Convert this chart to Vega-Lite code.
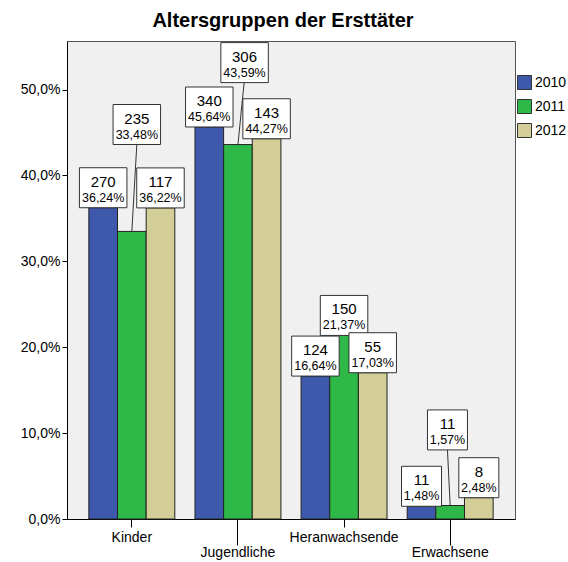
{
  "$schema": "https://vega.github.io/schema/vega-lite/v6.json",
  "autosize": {"type": "none"},
  "width": 448,
  "height": 478,
  "padding": {"left": 67, "top": 41, "right": 53, "bottom": 43},
  "background": "white",
  "title": {"text": "Altersgruppen der Ersttäter", "font": "Liberation Sans", "fontSize": 20, "fontWeight": "bold", "color": "black", "anchor": "middle", "frame": "group", "offset": 14, "baseline": "alphabetic", "dx": -8, "dy": 20},
  "config": {
    "locale": {"number": {"decimal": ",", "thousands": ".", "grouping": [3], "currency": ["", " €"]}},
    "view": {"fill": "#f0f0f0", "stroke": "#555555", "strokeWidth": 1},
    "font": "Liberation Sans"
  },
  "data": {"values": [
    {"group": "Kinder", "year": "2010", "pct": 0.3624, "n": 270},
    {"group": "Kinder", "year": "2011", "pct": 0.3348, "n": 235},
    {"group": "Kinder", "year": "2012", "pct": 0.3622, "n": 117},
    {"group": "Jugendliche", "year": "2010", "pct": 0.4564, "n": 340},
    {"group": "Jugendliche", "year": "2011", "pct": 0.4359, "n": 306},
    {"group": "Jugendliche", "year": "2012", "pct": 0.4427, "n": 143},
    {"group": "Heranwachsende", "year": "2010", "pct": 0.1664, "n": 124},
    {"group": "Heranwachsende", "year": "2011", "pct": 0.2137, "n": 150},
    {"group": "Heranwachsende", "year": "2012", "pct": 0.1703, "n": 55},
    {"group": "Erwachsene", "year": "2010", "pct": 0.0148, "n": 11},
    {"group": "Erwachsene", "year": "2011", "pct": 0.0157, "n": 11},
    {"group": "Erwachsene", "year": "2012", "pct": 0.0248, "n": 8}
  ]},
  "encoding": {
    "x": {
      "field": "group", "type": "nominal",
      "sort": ["Kinder", "Jugendliche", "Heranwachsende", "Erwachsene"],
      "scale": {"paddingInner": 0.19, "paddingOuter": 0.206},
      "axis": {
        "title": null, "labelAngle": 0, "labelFont": "Liberation Sans", "labelFontSize": 14, "labelColor": "black",
        "domainColor": "black", "tickColor": "black",
        "tickSize": {"condition": {"test": "datum.value == 'Jugendliche' || datum.value == 'Erwachsene'", "value": 26}, "value": 8},
        "labelPadding": {"condition": {"test": "datum.value == 'Jugendliche' || datum.value == 'Erwachsene'", "value": 0}, "value": 3}
      }
    },
    "xOffset": {"field": "year", "type": "nominal", "scale": {"paddingInner": 0, "paddingOuter": 0}},
    "y": {
      "field": "pct", "type": "quantitative",
      "scale": {"domain": [0, 0.5565], "nice": false},
      "axis": {"title": null, "grid": false, "format": ".1%", "values": [0, 0.1, 0.2, 0.3, 0.4, 0.5], "labelFont": "Liberation Sans", "labelFontSize": 14, "labelColor": "black", "domainColor": "black", "tickColor": "black", "tickSize": 5, "labelPadding": 2}
    }
  },
  "layer": [
    {
      "mark": {"type": "bar", "stroke": "#222222", "strokeWidth": 1},
      "encoding": {
        "color": {
          "field": "year", "type": "nominal",
          "scale": {"domain": ["2010", "2011", "2012"], "range": ["#3e58ac", "#2eb848", "#d3ce97"]},
          "legend": {"title": null, "orient": "none", "legendX": 450, "legendY": 34, "symbolType": "square", "symbolSize": 196, "symbolStrokeColor": "#333333", "symbolStrokeWidth": 1, "symbolOpacity": 1, "labelFont": "Liberation Sans", "labelFontSize": 14, "labelColor": "black", "labelOffset": 3, "rowPadding": 5}
        }
      }
    },
    {
      "transform": [{"filter": "!(datum.year == '2011' && datum.group != 'Heranwachsende') && datum.group != 'Erwachsene'"}],
      "mark": {"type": "point", "shape": "M-1,0L1,0L1,-1.684L-1,-1.684Z", "size": 2256, "filled": true, "fill": "white", "stroke": "#333333", "strokeWidth": 1, "opacity": 1}
    },
    {
      "transform": [{"filter": "datum.year != '2011' && datum.group == 'Erwachsene'"}],
      "mark": {"type": "point", "shape": "M-1,0L1,0L1,-2L-1,-2Z", "size": 1600, "filled": true, "fill": "white", "stroke": "#333333", "strokeWidth": 1, "opacity": 1}
    },
    {
      "transform": [{"filter": "datum.year == '2011' && datum.group == 'Kinder'"}],
      "mark": {"type": "point", "shape": "M0,0L0.21,-3.66M-0.79,-3.66L1.21,-3.66L1.21,-5.344L-0.79,-5.344Z", "size": 2256, "filled": true, "fill": "white", "stroke": "#333333", "strokeWidth": 1, "opacity": 1}
    },
    {
      "transform": [{"filter": "datum.year == '2011' && datum.group == 'Jugendliche'"}],
      "mark": {"type": "point", "shape": "M0,0L0.26,-2.61M-0.72,-2.61L1.28,-2.61L1.28,-4.294L-0.72,-4.294Z", "size": 2256, "filled": true, "fill": "white", "stroke": "#333333", "strokeWidth": 1, "opacity": 1}
    },
    {
      "transform": [{"filter": "datum.year == '2011' && datum.group == 'Erwachsene'"}],
      "mark": {"type": "point", "shape": "M0,0L-0.135,-2.78M-1.135,-2.78L0.865,-2.78L0.865,-4.78L-1.135,-4.78Z", "size": 1600, "filled": true, "fill": "white", "stroke": "#333333", "strokeWidth": 1, "opacity": 1}
    },
    {
      "transform": [{"filter": "!(datum.year == '2011' && datum.group != 'Heranwachsende')"}],
      "mark": {"type": "text", "font": "Liberation Sans", "fontSize": 15, "baseline": "alphabetic", "dy": -21, "color": "black"},
      "encoding": {"text": {"field": "n", "type": "quantitative"}}
    },
    {
      "transform": [{"filter": "!(datum.year == '2011' && datum.group != 'Heranwachsende')"}],
      "mark": {"type": "text", "font": "Liberation Sans", "fontSize": 12.5, "baseline": "alphabetic", "dy": -6, "color": "black"},
      "encoding": {"text": {"field": "pct", "type": "quantitative", "format": ".2%"}}
    },
    {
      "transform": [{"filter": "datum.year == '2011' && datum.group == 'Kinder'"}],
      "mark": {"type": "text", "font": "Liberation Sans", "fontSize": 15, "baseline": "alphabetic", "dy": -107.9, "dx": 5, "color": "black"},
      "encoding": {"text": {"field": "n", "type": "quantitative"}}
    },
    {
      "transform": [{"filter": "datum.year == '2011' && datum.group == 'Kinder'"}],
      "mark": {"type": "text", "font": "Liberation Sans", "fontSize": 12.5, "baseline": "alphabetic", "dy": -92.9, "dx": 5, "color": "black"},
      "encoding": {"text": {"field": "pct", "type": "quantitative", "format": ".2%"}}
    },
    {
      "transform": [{"filter": "datum.year == '2011' && datum.group == 'Jugendliche'"}],
      "mark": {"type": "text", "font": "Liberation Sans", "fontSize": 15, "baseline": "alphabetic", "dy": -82.9, "dx": 6.6, "color": "black"},
      "encoding": {"text": {"field": "n", "type": "quantitative"}}
    },
    {
      "transform": [{"filter": "datum.year == '2011' && datum.group == 'Jugendliche'"}],
      "mark": {"type": "text", "font": "Liberation Sans", "fontSize": 12.5, "baseline": "alphabetic", "dy": -67.9, "dx": 6.6, "color": "black"},
      "encoding": {"text": {"field": "pct", "type": "quantitative", "format": ".2%"}}
    },
    {
      "transform": [{"filter": "datum.year == '2011' && datum.group == 'Erwachsene'"}],
      "mark": {"type": "text", "font": "Liberation Sans", "fontSize": 15, "baseline": "alphabetic", "dy": -76.5, "dx": -2.7, "color": "black"},
      "encoding": {"text": {"field": "n", "type": "quantitative"}}
    },
    {
      "transform": [{"filter": "datum.year == '2011' && datum.group == 'Erwachsene'"}],
      "mark": {"type": "text", "font": "Liberation Sans", "fontSize": 12.5, "baseline": "alphabetic", "dy": -61.5, "dx": -2.7, "color": "black"},
      "encoding": {"text": {"field": "pct", "type": "quantitative", "format": ".2%"}}
    }
  ]
}
